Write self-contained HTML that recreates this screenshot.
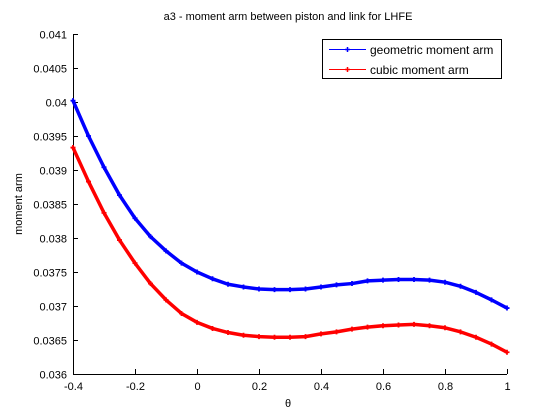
<!DOCTYPE html>
<html><head><meta charset="utf-8"><style>
html,body{margin:0;padding:0;background:#fff;}
svg{display:block;font-family:"Liberation Sans","DejaVu Sans",sans-serif;}
</style></head><body>
<svg id="chart" width="560" height="420">
<rect width="560" height="420" fill="#fff"/>
<text x="288" y="20" font-size="11" text-anchor="middle">a3 - moment arm between piston and link for LHFE</text>
<g id="axes"></g>
<g id="series"></g>
<text x="288" y="407" font-size="11" text-anchor="middle">θ</text>
<text transform="translate(22,204) rotate(-90)" font-size="11" text-anchor="middle">moment arm</text>
<g>
<rect x="322.5" y="39.5" width="179" height="39" fill="#fff" stroke="#000" stroke-width="1"/>
<g>
<line x1="329" y1="49.5" x2="366" y2="49.5" stroke="#0000ff"/>
<path d="M345 49.5h5M347.5 47v5" stroke="#0000ff" stroke-width="1.5"/>
<text x="370" y="54" font-size="12">geometric moment arm</text>
</g>
<g>
<line x1="329" y1="69.5" x2="366" y2="69.5" stroke="#ff0000"/>
<path d="M345 69.5h5M347.5 67v5" stroke="#ff0000" stroke-width="1.5"/>
<text x="370" y="74" font-size="12">cubic moment arm</text>
</g>
</g>
</svg>
<script>
const thetas = [-0.4,-0.35,-0.3,-0.25,-0.2,-0.15,-0.1,-0.05,0,0.05,0.1,0.15,0.2,0.25,0.3,0.35,0.4,0.45,0.5,0.55,0.6,0.65,0.7,0.75,0.8,0.85,0.9,0.95,1.0];
const geometricArm = [0.04002,0.03950,0.03904,0.03863,0.03829,0.03802,0.03781,0.03763,0.03750,0.03740,0.03732,0.03728,0.03725,0.03724,0.03724,0.03725,0.03728,0.03731,0.03733,0.03737,0.03738,0.03739,0.03739,0.03738,0.03735,0.03729,0.03720,0.03709,0.03697];
const cubicArm = [0.03933,0.03883,0.03837,0.03797,0.03763,0.03733,0.03709,0.03689,0.03676,0.03667,0.03661,0.03657,0.03655,0.03654,0.03654,0.03655,0.03659,0.03662,0.03666,0.03669,0.03671,0.03672,0.03673,0.03671,0.03668,0.03662,0.03654,0.03644,0.03632];
const xTicks = [-0.4,-0.2,0,0.2,0.4,0.6,0.8,1];
const xTickLabels = ["-0.4","-0.2","0","0.2","0.4","0.6","0.8","1"];
const yTicks = [0.036,0.0365,0.037,0.0375,0.038,0.0385,0.039,0.0395,0.04,0.0405,0.041];
const yTickLabels = ["0.036","0.0365","0.037","0.0375","0.038","0.0385","0.039","0.0395","0.04","0.0405","0.041"];

const L=73,R=507,T=34,B=374;
const xs=v=>L+(v+0.4)/1.4*(R-L);
const ys=v=>B-(v-0.036)/0.005*(B-T);
const NS="http://www.w3.org/2000/svg";
function mk(tag,attrs,parent){const e=document.createElementNS(NS,tag);for(const k in attrs)e.setAttribute(k,attrs[k]);parent.appendChild(e);return e;}
const axes=document.getElementById('axes');
const xa=mk('line',{x1:L,y1:B+0.5,x2:R,y2:B+0.5,stroke:'#000'},axes);


const ya=mk('line',{x1:L+0.5,y1:T,x2:L+0.5,y2:B,stroke:'#000'},axes);


xTicks.forEach((t,i)=>{
  const x=Math.round(xs(t))+0.5;
  mk('line',{x1:x,y1:B,x2:x,y2:B-5,stroke:'#000'},axes);
  const tx=mk('text',{x:x,y:B+16,'font-size':11,'text-anchor':'middle'},axes);
  tx.textContent=xTickLabels[i];
  
  
});
yTicks.forEach((t,i)=>{
  const y=Math.round(ys(t))+0.5;
  mk('line',{x1:L,y1:y,x2:L+5,y2:y,stroke:'#000'},axes);
  const tx=mk('text',{x:L-6,y:y+4,'font-size':11,'text-anchor':'end'},axes);
  tx.textContent=yTickLabels[i];
  
  
});
const series=document.getElementById('series');
function draw(vals,color,name){
  const g=mk('g',{},series);
  
  
  const pts=thetas.map((t,i)=>xs(t)+','+ys(vals[i])).join(' ');
  mk('polyline',{points:pts,fill:'none',stroke:color,'stroke-width':3.5,'stroke-linejoin':'round'},g);
  thetas.forEach((t,i)=>{
    const x=xs(t),y=ys(vals[i]);
    const p=mk('path',{d:`M${x-2.5} ${y}h5M${x} ${y-2.5}v5`,stroke:color,'stroke-width':1.8},g);
    
    
  });
}
draw(geometricArm,'#0000ff','geometric-moment-arm-line');
draw(cubicArm,'#ff0000','cubic-moment-arm-line');
</script>
</body></html>
